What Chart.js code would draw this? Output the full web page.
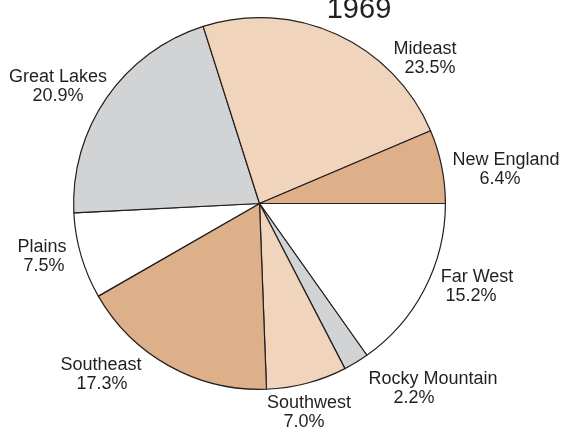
<!DOCTYPE html>
<html>
<head>
<meta charset="utf-8">
<script src="https://cdn.jsdelivr.net/npm/chart.js@4"></script>
<style>
html,body{margin:0;padding:0;background:#fff;}
#wrap{width:563px;height:430px;position:relative;}
</style>
</head>
<body>
<div id="wrap"><canvas id="c" width="563" height="430"></canvas></div>
<script>
// Data (counter-clockwise from 3 o'clock, as in the reference)
const titleText = "1969";
const regions = ["New England", "Mideast", "Great Lakes", "Plains", "Southeast", "Southwest", "Rocky Mountain", "Far West"];
const shares = [6.4, 23.5, 20.9, 7.5, 17.3, 7.0, 2.2, 15.2];
const colors = ["#deb089", "#f0d4bb", "#d1d3d4", "#ffffff", "#deb089", "#f0d4bb", "#d1d3d4", "#ffffff"];

// Label placement (centre x of each line, baseline of first line)
const labelLayout = {
  "New England":    {x1: 506, x2: 500, y: 165},
  "Mideast":        {x1: 425, x2: 430, y: 54},
  "Great Lakes":    {x1: 58,  x2: 58,  y: 82},
  "Plains":         {x1: 42,  x2: 44,  y: 252},
  "Southeast":      {x1: 101, x2: 102, y: 370},
  "Southwest":      {x1: 309, x2: 304, y: 408},
  "Rocky Mountain": {x1: 433, x2: 414, y: 384},
  "Far West":       {x1: 477, x2: 471, y: 282}
};

// Chart.js draws clockwise, so reverse order to get counter-clockwise layout
const libLabels = regions.slice().reverse();
const libData = shares.slice().reverse();
const libColors = colors.slice().reverse();

const textColor = "#231f20";
const fontFamily = "'Liberation Sans', Arial, Helvetica, sans-serif";

const labelPlugin = {
  id: 'pieLabels',
  afterDraw(chart) {
    const ctx = chart.ctx;
    ctx.save();
    ctx.fillStyle = textColor;
    ctx.textAlign = 'center';
    ctx.textBaseline = 'alphabetic';
    ctx.font = "29px " + fontFamily;
    ctx.fillText(titleText, 359, 18);
    ctx.font = "18px " + fontFamily;
    regions.forEach((name, i) => {
      const p = labelLayout[name];
      ctx.fillText(name, p.x1, p.y);
      ctx.fillText(shares[i].toFixed(1) + "%", p.x2, p.y + 18.5);
    });
    ctx.restore();
  }
};

new Chart(document.getElementById('c'), {
  type: 'pie',
  data: {
    labels: libLabels,
    datasets: [{
      data: libData,
      backgroundColor: libColors,
      borderColor: "#231f20",
      borderWidth: 1.2,
      borderAlign: 'center'
    }]
  },
  options: {
    responsive: false,
    animation: false,
    rotation: 90,
    layout: {padding: {left: 73, right: 117, top: 17, bottom: 40}},
    plugins: {
      legend: {display: false},
      tooltip: {enabled: false},
      title: {display: false}
    }
  },
  plugins: [labelPlugin]
});
</script>
</body>
</html>
